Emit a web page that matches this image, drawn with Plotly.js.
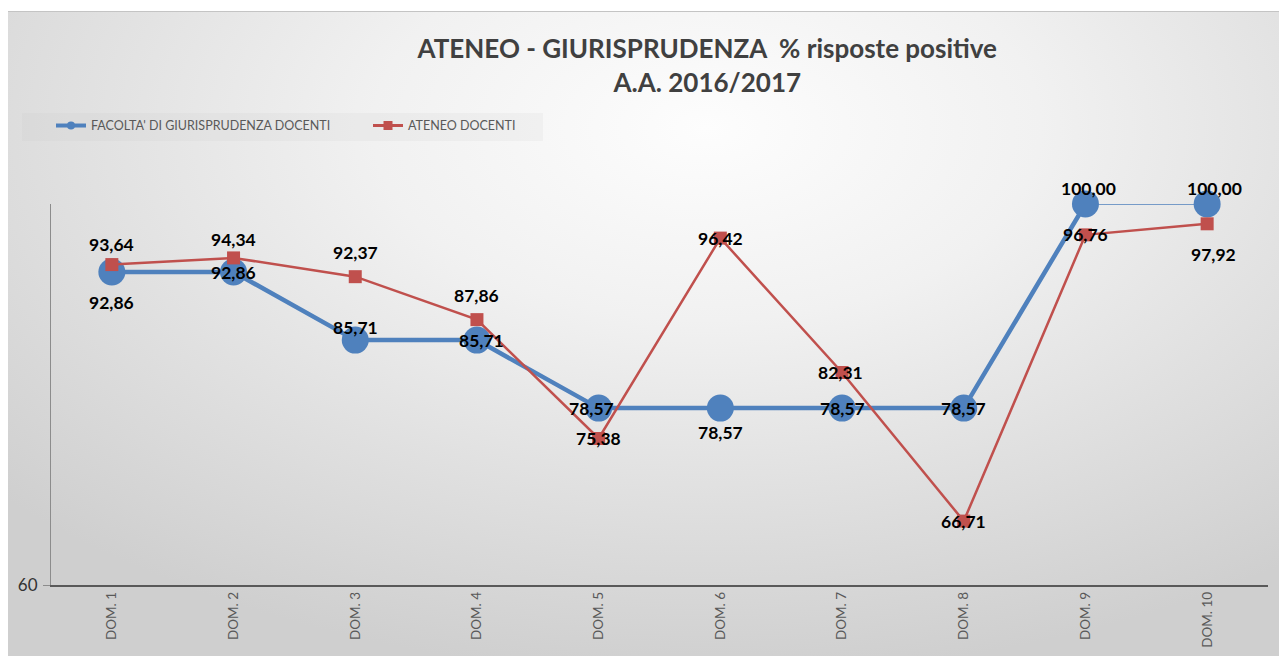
<!DOCTYPE html>
<html>
<head>
<meta charset="utf-8">
<script src="https://cdn.plot.ly/plotly-3.0.1.min.js"></script>
<style>
  html, body { margin: 0; padding: 0; background: #ffffff; }
  #bg { position: absolute; left: 8px; top: 11px; width: 1271px; height: 645px;
        border-top: 1px solid #c4c4c4;
        background: radial-gradient(ellipse 75% 85% at 55% 18%, #fdfdfd 0%, #f1f1f1 35%, #e1e1e1 65%, #cfcfcf 100%); }
  #chart { position: absolute; left: 0; top: 0; width: 1279px; height: 656px; }
</style>
</head>
<body>
<div id="bg"></div>
<div id="chart"></div>
<script>
// ---- data ----
const categories = ['DOM. 1', 'DOM. 2', 'DOM. 3', 'DOM. 4', 'DOM. 5', 'DOM. 6', 'DOM. 7', 'DOM. 8', 'DOM. 9', 'DOM. 10'];
const facoltaDocenti = [92.86, 92.86, 85.71, 85.71, 78.57, 78.57, 78.57, 78.57, 100.00, 100.00];
const ateneoDocenti = [93.64, 94.34, 92.37, 87.86, 75.38, 96.42, 82.31, 66.71, 96.76, 97.92];
const seriesNames = ["FACOLTA' DI GIURISPRUDENZA DOCENTI", 'ATENEO DOCENTI'];
const yTickValues = [60];
const yTickLabels = ['60'];

// ---- styles ----
const BLUE = '#4F81BD';
const RED = '#C0504D';
const labelFont = { family: 'Lato, sans-serif', size: 17.5, color: '#000000', weight: 'bold' };
// label offsets in pixels [dx, dy(up)]
const blueShift = [[0,-30],[0,0],[0,13],[5,0],[-7,0],[0,-24],[0,0],[0,0],[3,16],[7,16]];
const redShift  = [[0,20],[0,18],[0,24],[0,24],[0,0],[0,0],[-2,0],[0,0],[0,0],[6,-31]];

function fmt(v) { return v.toFixed(2).replace('.', ','); }

const traces = [
  { x: categories.slice(0, 9), y: facoltaDocenti.slice(0, 9), mode: 'lines',
    line: { color: BLUE, width: 4.5 }, showlegend: false, hoverinfo: 'skip', cliponaxis: false },
  { x: categories.slice(8), y: facoltaDocenti.slice(8), mode: 'lines',
    line: { color: BLUE, width: 1.5 }, showlegend: false, hoverinfo: 'skip', cliponaxis: false },
  { x: categories, y: facoltaDocenti, mode: 'markers',
    marker: { color: BLUE, size: 27, symbol: 'circle' }, showlegend: false, cliponaxis: false },
  { x: categories, y: ateneoDocenti, mode: 'lines+markers',
    line: { color: RED, width: 2.5 }, marker: { color: RED, size: 13, symbol: 'square' },
    showlegend: false, cliponaxis: false },
  // legend entries
  { x: [null], y: [null], mode: 'lines+markers', name: seriesNames[0],
    line: { color: BLUE, width: 4 }, marker: { color: BLUE, size: 8 } },
  { x: [null], y: [null], mode: 'lines+markers', name: seriesNames[1],
    line: { color: RED, width: 3 }, marker: { color: RED, size: 9, symbol: 'square' } }
];

const annotations = [];
categories.forEach((c, i) => {
  annotations.push({ x: c, y: facoltaDocenti[i], text: fmt(facoltaDocenti[i]), showarrow: false,
    xshift: blueShift[i][0], yshift: blueShift[i][1], font: labelFont });
  annotations.push({ x: c, y: ateneoDocenti[i], text: fmt(ateneoDocenti[i]), showarrow: false,
    xshift: redShift[i][0], yshift: redShift[i][1], font: labelFont });
});

const layout = {
  width: 1279, height: 656,
  margin: { l: 51, r: 11, t: 204, b: 71, pad: 0 },
  paper_bgcolor: 'rgba(0,0,0,0)', plot_bgcolor: 'rgba(0,0,0,0)',
  font: { family: 'Lato, sans-serif', color: '#595959' },
  title: {
    text: 'ATENEO - GIURISPRUDENZA\u00a0 % risposte positive<br>A.A. 2016/2017',
    font: { family: 'Lato, sans-serif', size: 26, color: '#404040', weight: 'bold' },
    xref: 'container', x: 0.553, xanchor: 'center',
    yref: 'container', y: 0.912, yanchor: 'top'
  },
  xaxis: {
    type: 'category', range: [-0.5, 9.5], autorange: false,
    showline: true, linecolor: '#595959', linewidth: 1.5,
    showgrid: false, zeroline: false, ticks: '', tickangle: -90,
    tickfont: { family: 'Lato, sans-serif', size: 13.5, color: '#595959' },
    fixedrange: true
  },
  yaxis: {
    range: [60, 100], autorange: false, showline: true, linecolor: '#8c8c8c', linewidth: 1,
    showgrid: false, zeroline: false, ticks: 'outside', ticklen: 7, tickcolor: '#8c8c8c',
    tickvals: yTickValues, ticktext: yTickLabels,
    tickfont: { family: 'Lato, sans-serif', size: 17, color: '#333333' },
    ticklabelstandoff: 2,
    fixedrange: true
  },
  showlegend: true,
  legend: {
    orientation: 'h', x: 0, xanchor: 'left', y: 1.205, yanchor: 'middle',
    bgcolor: 'rgba(0,0,0,0)', font: { family: 'Lato, sans-serif', size: 12.5, color: '#595959' },
    entrywidth: 272, entrywidthmode: 'pixels'
  },
  shapes: [
    { type: 'rect', xref: 'paper', yref: 'paper',
      x0: (22 - 51) / 1217, x1: (543 - 51) / 1217,
      y0: (585 - 141) / 381, y1: (585 - 113) / 381,
      fillcolor: 'rgba(190,190,190,0.13)', line: { width: 0 }, layer: 'below' }
  ],
  annotations: annotations
};

Plotly.newPlot('chart', traces, layout, { displayModeBar: false, staticPlot: true });
</script>
</body>
</html>
